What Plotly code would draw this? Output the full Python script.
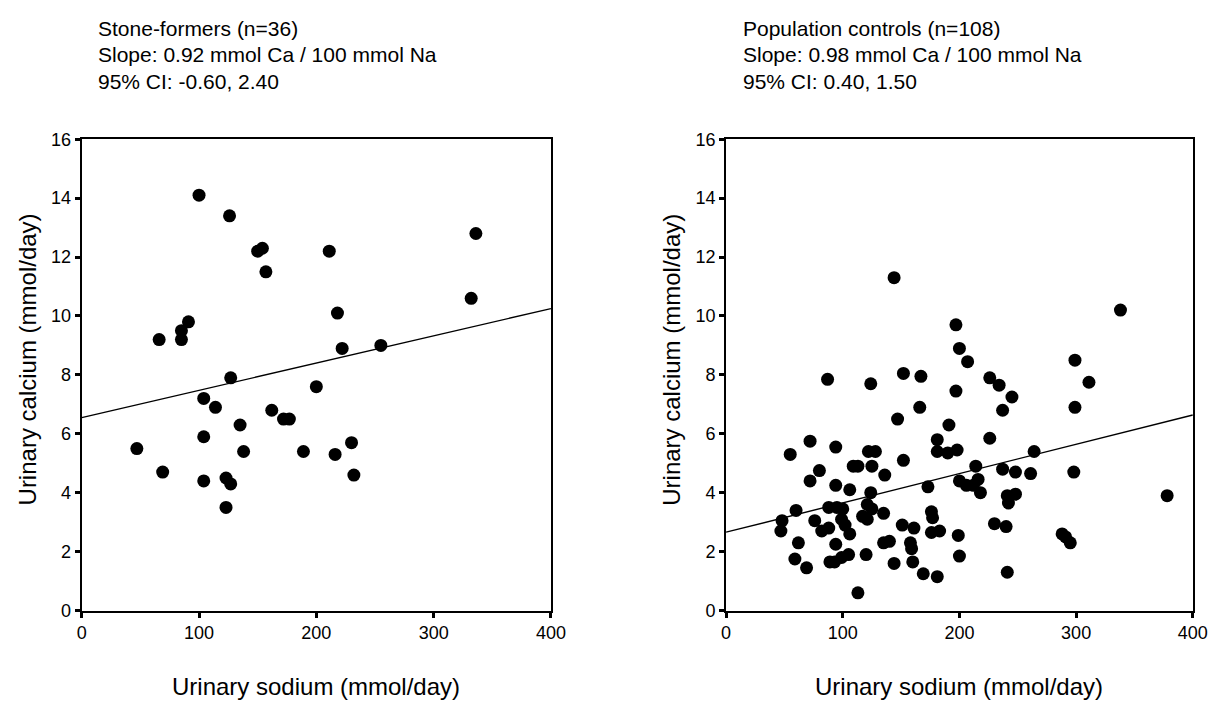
import plotly.graph_objects as go

# ---------------- data ----------------
sf_sodium = [47, 69, 66, 85, 85, 91, 100, 104, 104, 104, 114, 123, 123, 127, 127, 126, 135, 138,
             150, 154, 157, 162, 172, 177, 189, 200, 211, 216, 218, 222, 230, 232, 255, 332, 336]
sf_calcium = [5.5, 4.7, 9.2, 9.2, 9.5, 9.8, 14.1, 7.2, 5.9, 4.4, 6.9, 4.5, 3.5, 4.3, 7.9, 13.4, 6.3, 5.4,
              12.2, 12.3, 11.5, 6.8, 6.5, 6.5, 5.4, 7.6, 12.2, 5.3, 10.1, 8.9, 5.7, 4.6, 9.0, 10.6, 12.8]

pc_sodium = [144, 197, 200, 207, 87, 124, 152, 167, 197, 166,
             147, 191, 181, 72, 94, 55, 122, 128, 152, 181,
             190, 198, 80, 72, 94, 106, 109, 113, 125, 136,
             173, 200, 206, 212, 216, 218, 124, 121, 125, 88,
             95, 100, 60, 48, 47, 76, 82, 88, 99, 102,
             106, 117, 121, 135, 151, 161, 176, 177, 176, 183,
             199, 62, 94, 135, 140, 158, 159, 120, 105, 99,
             93, 89, 59, 69, 144, 160, 169, 181, 200, 113,
             338, 226, 234, 245, 237, 299, 311, 299, 226, 264,
             214, 237, 248, 261, 298, 241, 248, 242, 378, 230,
             240, 288, 291, 295, 241]
pc_calcium = [11.3, 9.7, 8.9, 8.45, 7.85, 7.7, 8.05, 7.95, 7.45, 6.9,
              6.5, 6.3, 5.8, 5.75, 5.55, 5.3, 5.4, 5.4, 5.1, 5.4,
              5.35, 5.45, 4.75, 4.4, 4.25, 4.1, 4.9, 4.9, 4.9, 4.6,
              4.2, 4.4, 4.25, 4.25, 4.45, 4.0, 4.0, 3.6, 3.45, 3.5,
              3.5, 3.45, 3.4, 3.05, 2.7, 3.05, 2.7, 2.8, 3.1, 2.9,
              2.6, 3.2, 3.1, 3.3, 2.9, 2.8, 3.35, 3.15, 2.65, 2.7,
              2.55, 2.3, 2.25, 2.3, 2.35, 2.3, 2.1, 1.9, 1.9, 1.8,
              1.65, 1.65, 1.75, 1.45, 1.6, 1.65, 1.25, 1.15, 1.85, 0.6,
              10.2, 7.9, 7.65, 7.25, 6.8, 8.5, 7.75, 6.9, 5.85, 5.4,
              4.9, 4.8, 4.7, 4.65, 4.7, 3.9, 3.95, 3.65, 3.9, 2.95,
              2.85, 2.6, 2.5, 2.3, 1.3]

reg_x = [0, 400]
sf_reg_y = [6.55, 10.25]
pc_reg_y = [2.66, 6.64]

sf_title = ["Stone-formers (n=36)", "Slope: 0.92 mmol Ca / 100 mmol Na", "95% CI: -0.60, 2.40"]
pc_title = ["Population controls (n=108)", "Slope: 0.98 mmol Ca / 100 mmol Na", "95% CI: 0.40, 1.50"]
x_title = "Urinary sodium (mmol/day)"
y_title = "Urinary calcium (mmol/day)"
x_ticks = [0, 100, 200, 300, 400]
y_ticks = [0, 2, 4, 6, 8, 10, 12, 14, 16]

# ---------------- layout constants ----------------
W, H = 1227, 708
FONT = "Liberation Sans, Arial, sans-serif"

def px_x(p):
    return p / W

def px_y(p):
    return 1 - p / H

fig = go.Figure()
marker = dict(color="black", size=13, line=dict(width=0))
fig.add_trace(go.Scatter(x=sf_sodium, y=sf_calcium, mode="markers", marker=marker,
                         xaxis="x", yaxis="y", showlegend=False, cliponaxis=False))
fig.add_trace(go.Scatter(x=reg_x, y=sf_reg_y, mode="lines", line=dict(color="black", width=1.4),
                         xaxis="x", yaxis="y", showlegend=False))
fig.add_trace(go.Scatter(x=pc_sodium, y=pc_calcium, mode="markers", marker=marker,
                         xaxis="x2", yaxis="y2", showlegend=False, cliponaxis=False))
fig.add_trace(go.Scatter(x=reg_x, y=pc_reg_y, mode="lines", line=dict(color="black", width=1.4),
                         xaxis="x2", yaxis="y2", showlegend=False))

ax_common = dict(showline=True, linecolor="black", linewidth=2, mirror=True,
                 ticks="outside", ticklen=5, tickwidth=3, tickcolor="black",
                 showgrid=False, zeroline=False,
                 tickfont=dict(family=FONT, size=18, color="black"))
xa = dict(ax_common, range=[0, 400], tickvals=x_ticks)
ya = dict(ax_common, range=[0, 16], tickvals=y_ticks)

y_dom = [px_y(618), px_y(133)]
fig.update_layout(
    width=W, height=H,
    margin=dict(l=0, r=0, t=0, b=0),
    paper_bgcolor="white", plot_bgcolor="white",
    xaxis=dict(xa, domain=[px_x(78), px_x(555)], anchor="y"),
    yaxis=dict(ya, domain=y_dom, anchor="x"),
    xaxis2=dict(xa, domain=[px_x(733), px_x(1207.5)], anchor="y2"),
    yaxis2=dict(ya, domain=y_dom, anchor="x2"),
    font=dict(family=FONT, color="black"),
)

ann = []
line_y = [19, 46, 74]
for txt, yy in zip(sf_title, line_y):
    ann.append(dict(text=txt, x=px_x(93), y=px_y(yy), xref="paper", yref="paper",
                    xanchor="left", yanchor="middle", showarrow=False,
                    font=dict(family=FONT, size=21, color="black")))
for txt, yy in zip(pc_title, line_y):
    ann.append(dict(text=txt, x=px_x(748), y=px_y(yy), xref="paper", yref="paper",
                    xanchor="left", yanchor="middle", showarrow=False,
                    font=dict(family=FONT, size=21, color="black")))
for cx in [(78 + 555) / 2, (733 + 1207.5) / 2]:
    ann.append(dict(text=x_title, x=px_x(cx), y=px_y(696), xref="paper", yref="paper",
                    xanchor="center", yanchor="middle", showarrow=False,
                    font=dict(family=FONT, size=24, color="black")))
for cx in [23, 678]:
    ann.append(dict(text=y_title, x=px_x(cx), y=px_y(360), xref="paper", yref="paper",
                    xanchor="center", yanchor="middle", showarrow=False, textangle=-90,
                    font=dict(family=FONT, size=24, color="black")))
fig.update_layout(annotations=ann)

fig.write_html("out.html", config={"displayModeBar": False},
               post_script="document.body.style.margin='0';")
